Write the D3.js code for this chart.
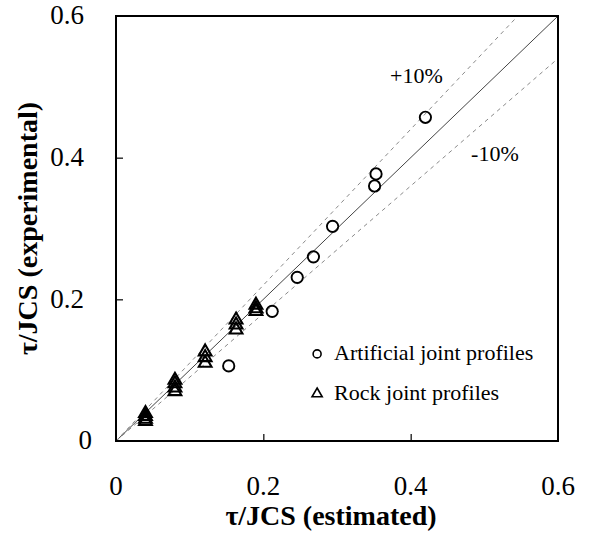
<!DOCTYPE html>
<html>
<head>
<meta charset="utf-8">
<script src="https://cdn.jsdelivr.net/npm/d3@7"></script>
<style>
  body { margin: 0; background: #fff; font-family: "Liberation Serif", "Times New Roman", Times, serif; }
  text { font-family: "Liberation Serif", "Times New Roman", Times, serif; }
</style>
</head>
<body>
<svg id="chart" width="592" height="534"></svg>
<script>
// Shear strength ratio: estimated vs experimental
const artificialX = [0.420, 0.353, 0.351, 0.294, 0.268, 0.246, 0.212, 0.153];
const artificialY = [0.457, 0.377, 0.360, 0.303, 0.260, 0.231, 0.183, 0.106];

const rockX = [0.040, 0.040, 0.040, 0.040,
               0.080, 0.080, 0.080, 0.080,
               0.121, 0.121, 0.121,
               0.163, 0.163, 0.163,
               0.190, 0.190, 0.190];
const rockY = [0.039, 0.035, 0.031, 0.028,
               0.086, 0.081, 0.075, 0.070,
               0.126, 0.118, 0.110,
               0.171, 0.164, 0.157,
               0.192, 0.187, 0.183];

const tickValues = [0, 0.2, 0.4, 0.6];
const tickLabels = ["0", "0.2", "0.4", "0.6"];
const refLines = [
  { slope: 1.0, label: null },
  { slope: 1.1, label: "+10%", lx: 0.372, ly: 0.512 },
  { slope: 0.9, label: "-10%", lx: 0.482, ly: 0.403 }
];
const legendItems = ["Artificial joint profiles", "Rock joint profiles"];

const FONT = "'Liberation Serif', 'Times New Roman', Times, serif";
const svg = d3.select("#chart");
const m = { left: 116, top: 16, right: 34, bottom: 93 };
const W = 592 - m.left - m.right;
const H = 534 - m.top - m.bottom;

const x = d3.scaleLinear().domain([0, 0.6]).range([0, W]);
const y = d3.scaleLinear().domain([0, 0.6]).range([H, 0]);

const g = svg.append("g").attr("transform", `translate(${m.left},${m.top})`);

// clip for the reference lines
svg.append("defs").append("clipPath").attr("id", "plotClip")
  .append("rect").attr("width", W).attr("height", H);

// reference lines: 1:1 and ±10%
const lineGen = d3.line().x(d => x(d[0])).y(d => y(d[1]));
const refG = g.append("g").attr("clip-path", "url(#plotClip)");
refLines.forEach(r => {
  const pts = [[0, 0], [0.6, 0.6 * r.slope]];
  refG.append("path")
    .attr("d", lineGen(pts))
    .attr("fill", "none")
    .attr("stroke", r.slope === 1 ? "#444" : "#8a8a8a")
    .attr("stroke-width", 1)
    .attr("stroke-dasharray", r.slope === 1 ? null : "4,4");
});
refLines.filter(r => r.label).forEach(r => {
  g.append("text")
    .attr("x", x(r.lx)).attr("y", y(r.ly))
    .style("font-family", FONT).attr("font-size", 22)
    .attr("dominant-baseline", "middle")
    .text(r.label);
});

// markers
const circleSym = d3.symbol().type(d3.symbolCircle).size(100);
const triSym = d3.symbol().type(d3.symbolTriangle).size(70);

g.append("g").selectAll("path")
  .data(rockX.map((v, i) => [v, rockY[i]]))
  .join("path")
  .attr("d", triSym())
  .attr("transform", d => `translate(${x(d[0])},${y(d[1])})`)
  .attr("fill", "none").attr("stroke", "#000").attr("stroke-width", 2.1);

g.append("g").selectAll("path")
  .data(artificialX.map((v, i) => [v, artificialY[i]]))
  .join("path")
  .attr("d", circleSym())
  .attr("transform", d => `translate(${x(d[0])},${y(d[1])})`)
  .attr("fill", "none").attr("stroke", "#000").attr("stroke-width", 1.9);

// inner ticks
const xAxis = d3.axisTop(x).tickValues([0.2, 0.4]).tickSize(7).tickFormat("");
const yAxis = d3.axisRight(y).tickValues([0.2, 0.4]).tickSize(7).tickFormat("");
g.append("g").attr("transform", `translate(0,${H})`).call(xAxis)
  .call(a => a.select(".domain").remove())
  .selectAll("line").attr("stroke", "#000").attr("stroke-width", 1.2);
g.append("g").call(yAxis)
  .call(a => a.select(".domain").remove())
  .selectAll("line").attr("stroke", "#000").attr("stroke-width", 1.2);

// frame
g.append("rect").attr("width", W).attr("height", H)
  .attr("fill", "none").attr("stroke", "#000").attr("stroke-width", 2);

// tick labels
g.append("g").selectAll("text").data(tickValues).join("text")
  .attr("x", d => x(d)).attr("y", H + 48)
  .attr("text-anchor", "middle")
  .style("font-family", FONT).attr("font-size", 27)
  .attr("dominant-baseline", "middle")
  .text((d, i) => tickLabels[i]);
g.append("g").selectAll("text").data(tickValues).join("text")
  .attr("x", d => d === 0 ? -24 : -32).attr("y", d => y(d) + 2)
  .attr("text-anchor", "end")
  .style("font-family", FONT).attr("font-size", 27)
  .attr("dominant-baseline", "middle")
  .text((d, i) => tickLabels[i]);

// axis titles
svg.append("text")
  .attr("x", m.left + W / 2 - 6).attr("y", 519)
  .attr("text-anchor", "middle")
  .style("font-family", FONT).attr("font-size", 28).attr("font-weight", "bold")
  .attr("dominant-baseline", "middle")
  .text("τ/JCS (estimated)");
svg.append("text")
  .attr("transform", `translate(31,${m.top + H / 2}) rotate(-90)`)
  .attr("text-anchor", "middle")
  .style("font-family", FONT).attr("font-size", 28).attr("font-weight", "bold")
  .attr("dominant-baseline", "middle")
  .text("τ/JCS (experimental)");

// legend
const lg = g.append("g").attr("transform", `translate(${x(0.273)},${y(0.123)})`);
legendItems.forEach((name, i) => {
  const row = lg.append("g").attr("transform", `translate(0,${i * 40})`);
  row.append("path")
    .attr("d", (i === 0 ? d3.symbol().type(d3.symbolCircle).size(50) : d3.symbol().type(d3.symbolTriangle).size(45))())
    .attr("fill", "none").attr("stroke", "#000").attr("stroke-width", 1.6);
  row.append("text").attr("x", 17).attr("y", 1)
    .style("font-family", FONT).attr("font-size", 22)
    .attr("dominant-baseline", "middle")
    .text(name);
});
</script>
</body>
</html>
